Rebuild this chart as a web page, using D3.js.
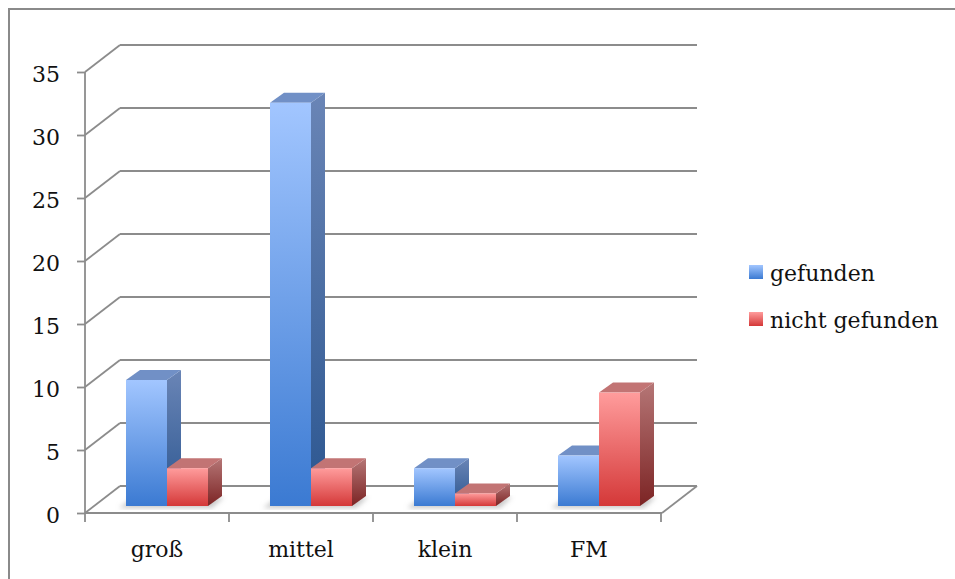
<!DOCTYPE html>
<html>
<head>
<meta charset="utf-8">
<script src="https://cdn.jsdelivr.net/npm/d3@7"></script>
<style>
  html, body { margin: 0; padding: 0; background: #fff; }
  svg { display: block; }
  text { font-family: "DejaVu Serif", serif; fill: #111; }
</style>
</head>
<body>
<script>
// Data
const categories = ["groß", "mittel", "klein", "FM"];
const seriesNames = ["gefunden", "nicht gefunden"];
const gefunden = [10, 32, 3, 4];
const nichtGefunden = [3, 3, 1, 9];
const yTicks = [0, 5, 10, 15, 20, 25, 30, 35];

const W = 955, H = 579;
const svg = d3.select("body").append("svg").attr("width", W).attr("height", H);
const defs = svg.append("defs");

// Gradients
function vGrad(id, top, bottom) {
  const g = defs.append("linearGradient").attr("id", id)
    .attr("x1", 0).attr("y1", 0).attr("x2", 0).attr("y2", 1);
  g.append("stop").attr("offset", "0%").attr("stop-color", top);
  g.append("stop").attr("offset", "100%").attr("stop-color", bottom);
}
vGrad("blueFront", "#a2c6ff", "#3b7ad2");
vGrad("blueSide", "#6a85b6", "#2b5690");
vGrad("redFront", "#ff9c9c", "#d43838");
vGrad("redSide", "#b57676", "#7c2424");
const topColor = { blue: "#7190c6", red: "#c27474" };
defs.append("filter").attr("id", "soft").append("feGaussianBlur").attr("stdDeviation", 2.5);

// Frame
svg.append("rect").attr("x", 9).attr("y", 9).attr("width", 1000).attr("height", 1000)
  .attr("fill", "none").attr("stroke", "#8a8a8a").attr("stroke-width", 2);

// Scales (front plane)
const x = d3.scaleBand().domain(categories).range([85, 661]);
const y = d3.scaleLinear().domain([0, 35]).range([513, 72]);
const back = { dx: 35, dy: -27 };   // offset of the back wall
const plane = { dx: 10, dy: -7 };    // offset of the bar plane
const depth = { dx: 14, dy: -10 };   // bar depth
const xs = d3.scaleBand().domain(seriesNames).range([0, x.bandwidth()]).paddingOuter(0.756);

const gridColor = "#8c8c8c";
const grid = svg.append("g").attr("stroke", gridColor).attr("stroke-width", 1.8).attr("fill", "none");

// Back wall lines and side diagonals
yTicks.forEach(v => {
  grid.append("line")
    .attr("x1", 85 + back.dx).attr("x2", 661 + back.dx + 1)
    .attr("y1", y(v) + back.dy).attr("y2", y(v) + back.dy);
  grid.append("line")
    .attr("x1", 85).attr("y1", y(v))
    .attr("x2", 85 + back.dx).attr("y2", y(v) + back.dy);
});
// Floor front edge and right diagonal
grid.append("line").attr("x1", 85).attr("x2", 662).attr("y1", y(0)).attr("y2", y(0));
grid.append("line").attr("x1", 662).attr("y1", y(0))
  .attr("x2", 662 + back.dx).attr("y2", y(0) + back.dy);

// Y axis
const yAxis = d3.axisLeft(y).tickValues(yTicks).tickSize(8).tickPadding(17);
const yg = svg.append("g").attr("transform", "translate(85,0)").call(yAxis);
yg.select(".domain").attr("stroke", gridColor).attr("stroke-width", 1.8)
  .attr("d", `M0,${y(35)}V${y(0) + 9}`);
yg.selectAll(".tick line").attr("stroke", gridColor).attr("stroke-width", 1.8);
yg.selectAll(".tick text").attr("font-size", 22).attr("font-family", "DejaVu Serif")
  .attr("fill", "#111").attr("dy", "0.45em");

// X axis ticks at category boundaries
const bounds = categories.map(c => x(c)).concat([x(categories[categories.length - 1]) + x.bandwidth()]);
svg.append("g").selectAll("line").data(bounds.slice(1)).join("line")
  .attr("x1", d => d).attr("x2", d => d)
  .attr("y1", y(0)).attr("y2", y(0) + 9)
  .attr("stroke", gridColor).attr("stroke-width", 1.8);
svg.append("g").selectAll("text").data(categories).join("text")
  .attr("x", d => x(d) + x.bandwidth() / 2).attr("y", 557)
  .attr("text-anchor", "middle").attr("font-size", 22).text(d => d);

// Bars
const seriesData = [
  { name: seriesNames[0], values: gefunden, front: "url(#blueFront)", side: "url(#blueSide)", top: topColor.blue },
  { name: seriesNames[1], values: nichtGefunden, front: "url(#redFront)", side: "url(#redSide)", top: topColor.red }
];
const base = y(0) + plane.dy;

// soft floor shadows under each group
const shadowG = svg.append("g").attr("filter", "url(#soft)");
categories.forEach(c => {
  const x0 = x(c) + plane.dx + xs(seriesNames[0]);
  const x1 = x(c) + plane.dx + xs(seriesNames[1]) + xs.bandwidth();
  shadowG.append("polygon")
    .attr("points", [[x0 - 7, base + 2], [x1 + 4, base + 2], [x1 + depth.dx + 2, base + depth.dy + 1], [x0 + 4, base - 6]].map(p => p.join(",")).join(" "))
    .attr("fill", "#9a9a9a").attr("opacity", 0.55);
});

const barsG = svg.append("g");
categories.forEach((c, i) => {
  seriesData.forEach(s => {
    const v = s.values[i];
    const x0 = x(c) + plane.dx + xs(s.name);
    const x1 = x0 + xs.bandwidth();
    const yt = y(v) + plane.dy;
    const g = barsG.append("g");
    g.append("polygon")
      .attr("points", [[x1, yt], [x1 + depth.dx, yt + depth.dy], [x1 + depth.dx, base + depth.dy], [x1, base]].map(p => p.join(",")).join(" "))
      .attr("fill", s.side);
    g.append("polygon")
      .attr("points", [[x0, yt], [x0 + depth.dx, yt + depth.dy], [x1 + depth.dx, yt + depth.dy], [x1, yt]].map(p => p.join(",")).join(" "))
      .attr("fill", s.top);
    g.append("rect")
      .attr("x", x0).attr("y", yt).attr("width", x1 - x0).attr("height", base - yt)
      .attr("fill", s.front);
  });
});

// Legend
const legend = svg.append("g");
seriesData.forEach((s, i) => {
  const ly = 265 + i * 47;
  legend.append("rect").attr("x", 749).attr("y", ly).attr("width", 14).attr("height", 14).attr("fill", s.front);
  legend.append("text").attr("x", 770).attr("y", ly + 16).attr("font-size", 22).text(s.name);
});
</script>
</body>
</html>
